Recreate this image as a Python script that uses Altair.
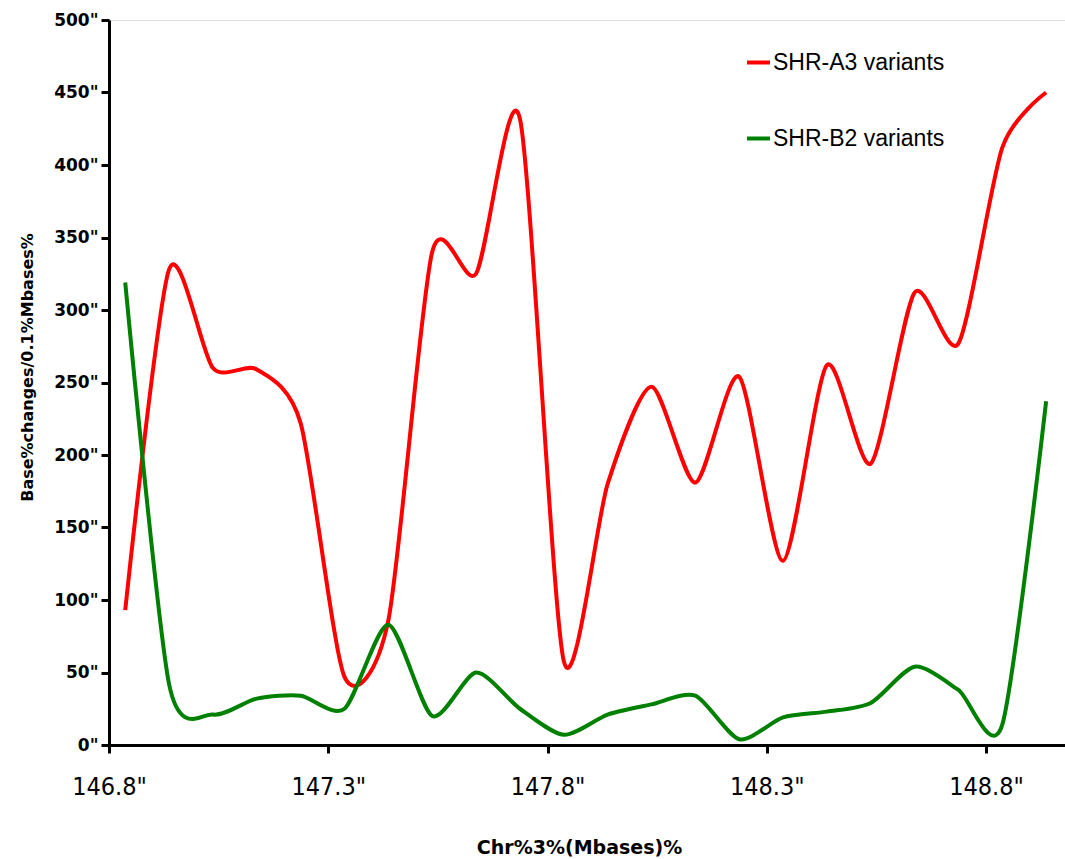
import altair as alt
import pandas as pd

# Chromosome position (Mbases)
x_mb = [146.837, 146.937, 147.037, 147.137, 147.237, 147.337, 147.437, 147.537,
        147.637, 147.737, 147.837, 147.937, 148.037, 148.137, 148.237, 148.337,
        148.437, 148.537, 148.637, 148.737, 148.837, 148.937]

shr_a3 = [93, 328, 260, 259, 222, 47, 86, 340, 325, 432, 58, 180,
          247, 181, 254, 127, 262, 194, 312, 277, 412, 450]

shr_b2 = [319, 42, 21, 32, 34, 25, 83, 20, 50, 25, 7, 21,
          28, 34, 4, 19, 23, 29, 54, 38, 14, 237]

series_names = ["SHR-A3 variants", "SHR-B2 variants"]
series_colors = ["#FF0000", "#008000"]

x_ticks = [146.8, 147.3, 147.8, 148.3, 148.8]
y_ticks = [0, 50, 100, 150, 200, 250, 300, 350, 400, 450, 500]

rows = []
for i, x in enumerate(x_mb):
    rows.append({"x": x, "v": shr_a3[i], "s": series_names[0], "o": i})
    rows.append({"x": x, "v": shr_b2[i], "s": series_names[1], "o": i})
df = pd.DataFrame(rows)

chart = alt.Chart(df).mark_line(
    interpolate="cardinal", tension=0.25, strokeWidth=4
).encode(
    x=alt.X("x:Q",
            scale=alt.Scale(domain=[146.8, 148.98], nice=False, zero=False),
            axis=alt.Axis(values=x_ticks, format=".1f",
                          labelExpr="datum.label + '\"'",
                          labelFlush=False,
                          title="Chr%3%(Mbases)%",
                          grid=False, domainColor="black", domainWidth=3,
                          tickColor="black", tickWidth=3, tickSize=8,
                          labelFont="DejaVu Sans Condensed", labelFontSize=25,
                          labelFontWeight=500,
                          labelColor="black", labelPadding=21,
                          titleFont="DejaVu Sans", titleFontWeight="bold",
                          titleFontSize=19, titleColor="black",
                          titleX=470, titleY=108, titleBaseline="alphabetic")),
    y=alt.Y("v:Q",
            scale=alt.Scale(domain=[0, 500], nice=False),
            axis=alt.Axis(values=y_ticks, labelExpr="datum.label + '\"'",
                          title="Base%changes/0.1%Mbases%",
                          grid=False, domainColor="black", domainWidth=3,
                          tickColor="black", tickWidth=3, tickSize=8,
                          labelFont="DejaVu Sans", labelFontWeight="bold",
                          labelFontSize=17, labelColor="black", labelPadding=3,
                          titleFont="DejaVu Sans", titleFontWeight="bold",
                          titleFontSize=16, titleColor="black",
                          titleX=-74, titleY=347)),
    color=alt.Color("s:N",
                    scale=alt.Scale(domain=series_names, range=series_colors),
                    legend=alt.Legend(title=None, orient="none",
                                      legendX=636, legendY=29,
                                      symbolType="stroke", symbolSize=529,
                                      symbolStrokeWidth=4, labelFont="Liberation Sans",
                                      labelFontSize=23, labelColor="black",
                                      labelLimit=0,
                                      labelOffset=1, rowPadding=50, padding=0)),
    order="o:Q"
).properties(
    width=956, height=725,
    autosize=alt.AutoSizeParams(type="none"),
    padding={"left": 109, "top": 20, "right": 0, "bottom": 114},
).configure_view(stroke=None).configure(background="white")

chart.save("out.html", embed_options={"renderer": "svg", "actions": False})
